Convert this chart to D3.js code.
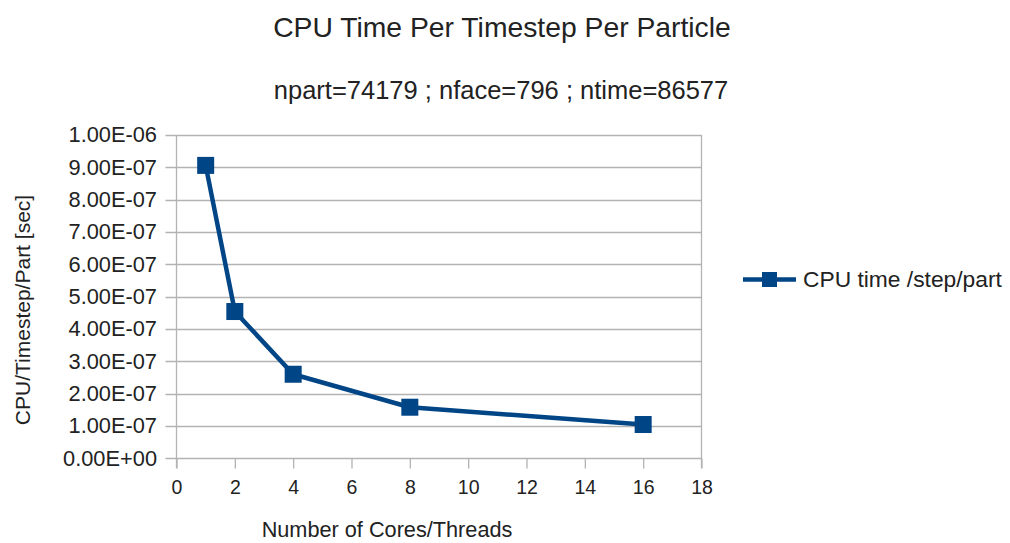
<!DOCTYPE html>
<html>
<head>
<meta charset="utf-8">
<script src="https://cdn.jsdelivr.net/npm/d3@7"></script>
<style>
  body { margin: 0; background: #fff; }
  text { font-family: "Liberation Sans", Arial, sans-serif; fill: #222; }
</style>
</head>
<body>
<div id="chart"></div>
<script>
// data
const threads = [1, 2, 4, 8, 16]
const cpuTime = [9.06e-7, 4.54e-7, 2.60e-7, 1.58e-7, 1.045e-7]
const seriesName = 'CPU time /step/part'
const xTicks = [0, 2, 4, 6, 8, 10, 12, 14, 16, 18]
const yTicks = [0, 1e-7, 2e-7, 3e-7, 4e-7, 5e-7, 6e-7, 7e-7, 8e-7, 9e-7, 1e-6]

const title = 'CPU Time Per Timestep Per Particle'
const subtitle = 'npart=74179 ; nface=796 ; ntime=86577'
const xLabel = 'Number of Cores/Threads'
const yLabel = 'CPU/Timestep/Part [sec]'

const W = 1010, H = 543
const plot = {left: 176.5, right: 701.5, top: 135, bottom: 458.3}
const blue = '#004586'
const grid = '#b3b3b3'

const svg = d3.select('#chart').append('svg')
  .attr('width', W)
  .attr('height', H)

const xs = d3.scaleLinear().domain([0, 18]).range([plot.left, plot.right])
const ys = d3.scaleLinear().domain([0, 1e-6]).range([plot.bottom, plot.top])

// titles
svg.append('text')
  .attr('x', 502).attr('y', 37)
  .attr('text-anchor', 'middle')
  .style('font-size', '28.3px')
  .text(title)
svg.append('text')
  .attr('x', 501).attr('y', 99)
  .attr('text-anchor', 'middle')
  .style('font-size', '25.5px')
  .text(subtitle)

// horizontal grid
svg.append('g')
  .selectAll('line')
  .data(yTicks)
  .join('line')
  .attr('x1', plot.left - 11).attr('x2', plot.right)
  .attr('y1', (d) => Math.round(ys(d)) + 0.5)
  .attr('y2', (d) => Math.round(ys(d)) + 0.5)
  .attr('stroke', grid)
  .attr('stroke-width', 1.3)

// y axis
let yAxis = d3.axisLeft(ys).tickValues(yTicks)
  .tickSize(0).tickPadding(19.5)
  .tickFormat((d) => d.toExponential(2).toUpperCase().replace(/E([+-])(\d)$/, 'E$10$2'))
svg.append('g')
  .attr('transform', `translate(${plot.left},0)`)
  .call(yAxis)
  .call(g => g.select('.domain').remove())
  .call(g => g.selectAll('text').style('font-size', '21.8px').attr('fill', '#222'))

// x axis
let xAxis = d3.axisBottom(xs).tickValues(xTicks)
  .tickSize(10).tickPadding(11.5)
svg.append('g')
  .attr('transform', `translate(0,${Math.round(plot.bottom) + 0.5})`)
  .call(xAxis)
  .call(g => g.select('.domain').remove())
  .call(g => g.selectAll('.tick line').attr('stroke', grid).attr('stroke-width', 1.3))
  .call(g => g.selectAll('text').style('font-size', '19.5px').attr('fill', '#222'))

// plot walls (left and right edges)
svg.append('g')
  .selectAll('line')
  .data([plot.left, plot.right])
  .join('line')
  .attr('x1', (d) => d).attr('x2', (d) => d)
  .attr('y1', plot.top).attr('y2', plot.bottom + 10)
  .attr('stroke', grid)
  .attr('stroke-width', 1.3)

// axis labels
svg.append('text')
  .attr('x', 387).attr('y', 537)
  .attr('text-anchor', 'middle')
  .style('font-size', '21.7px')
  .text(xLabel)
svg.append('text')
  .attr('transform', 'translate(30,310) rotate(-90)')
  .attr('text-anchor', 'middle')
  .style('font-size', '21px')
  .text(yLabel)

// series
let line = d3.line()
  .x((d, i) => xs(threads[i]))
  .y((d) => ys(d))
svg.append('path')
  .datum(cpuTime)
  .attr('d', line)
  .attr('fill', 'none')
  .attr('stroke', blue)
  .attr('stroke-width', 4.5)
  .attr('stroke-linejoin', 'round')

svg.append('g')
  .selectAll('rect')
  .data(cpuTime)
  .join('rect')
  .attr('x', (d, i) => xs(threads[i]) - 8.5)
  .attr('y', (d) => ys(d) - 8.5)
  .attr('width', 17).attr('height', 17)
  .attr('fill', blue)

// legend
let lg = svg.append('g').attr('transform', 'translate(743,279.5)')
lg.append('line')
  .attr('x1', 0).attr('x2', 53)
  .attr('stroke', blue).attr('stroke-width', 4.5)
lg.append('rect')
  .attr('x', 19).attr('y', -7.5)
  .attr('width', 15).attr('height', 15)
  .attr('fill', blue)
lg.append('text')
  .attr('x', 60).attr('y', 7.5)
  .style('font-size', '22.8px')
  .text(seriesName)
</script>
</body>
</html>
